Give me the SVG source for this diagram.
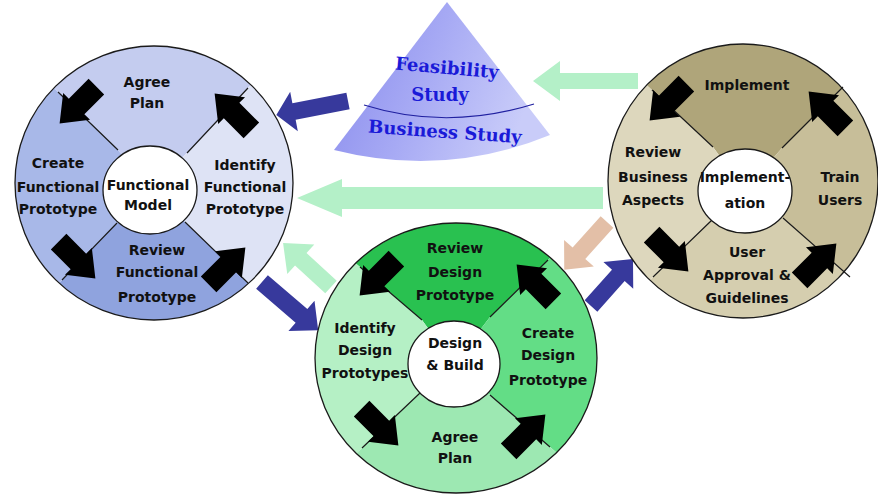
<svg xmlns="http://www.w3.org/2000/svg" xmlns:xlink="http://www.w3.org/1999/xlink" width="878" height="495" viewBox="0 0 878 495">
<defs>
<style>
.t{font-family:"DejaVu Sans","Liberation Sans",sans-serif;font-weight:bold;font-size:14px;fill:#111;text-anchor:middle}
.ct{font-family:"DejaVu Serif","Liberation Serif",serif;font-weight:bold;font-size:18px;fill:#1a1ad8;text-anchor:middle}
.rim{fill:none;stroke:#1a1a1a;stroke-width:1.3}
.div{stroke:#1a1a1a;stroke-width:1.2}
.hub{fill:#fff;stroke:#1a1a1a;stroke-width:1.3}
.blk{fill:#000}
.cb{fill:#37399c}
.cg{fill:#b4f0c8}
.cp{fill:#e3bfa7}
</style>
<path id="ba" d="M-26,-11 H2 V-19 L26,0 L2,19 V11 H-26 Z"/>
<linearGradient id="cone" x1="0" y1="0" x2="1" y2="0.3">
<stop offset="0" stop-color="#8688ec"/>
<stop offset="0.5" stop-color="#a6a9f4"/>
<stop offset="1" stop-color="#c9ccf9"/>
</linearGradient>
<clipPath id="cL"><ellipse cx="154" cy="183" rx="139" ry="137"/></clipPath>
<clipPath id="cM"><ellipse cx="456" cy="358" rx="141" ry="135"/></clipPath>
<clipPath id="cR"><ellipse cx="743" cy="181" rx="135" ry="137"/></clipPath>
</defs>
<rect width="878" height="495" fill="#fff"/>

<g id="connectors">
<path class="cb" d="M0,-8.5 H55 V-20 L73,0 L55,20 V8.5 H0 Z" transform="translate(348,101) rotate(169)"/>
<path class="cg" d="M0,-8 H78 V-20 L105,0 L78,20 V8 H0 Z" transform="translate(638,81) rotate(180)"/>
<path class="cg" d="M0,-11 H261 V-19 L306,0 L261,19 V11 H0 Z" transform="translate(603,198) rotate(180)"/>
<path class="cg" d="M0,-8.5 H41 V-20 L65,0 L41,20 V8.5 H0 Z" transform="translate(331,287) rotate(-137.5)"/>
<path class="cb" d="M0,-9 H52 V-20 L74,0 L52,20 V9 H0 Z" transform="translate(262,282) rotate(40.6)"/>
<path class="cp" d="M0,-8.5 H42 V-20 L64,0 L42,20 V8.5 H0 Z" transform="translate(607,222) rotate(131.9)"/>
<path class="cb" d="M0,-8.5 H41 V-20 L63,0 L41,20 V8.5 H0 Z" transform="translate(591,306) rotate(-48.2)"/>
</g>

<g id="feasibility">
<path d="M447,2 L550,135 Q445,178 334,150 Z" fill="url(#cone)"/>
<path d="M364,105 Q447,131 534,104" fill="none" stroke="#2020a0" stroke-width="1.2"/>
<text class="ct" x="447" y="74" transform="rotate(5 447 68)">Feasibility</text>
<text class="ct" x="440" y="101">Study</text>
<text class="ct" x="445" y="138" transform="rotate(4 445 132)">Business Study</text>
</g>

<g id="functional-model">
<g clip-path="url(#cL)">
<path d="M150,190 L118,150 L-2,34 L309,23 L187,153 Z" fill="#c4ccef"/>
<path d="M150,190 L187,153 L309,23 L320,183 L311,344 L185,222 Z" fill="#dee3f5"/>
<path d="M150,190 L185,222 L311,344 L7,337 L117,223 Z" fill="#8fa3de"/>
<path d="M150,190 L117,223 L7,337 L-10,183 L-2,34 L118,150 Z" fill="#a8b8e8"/>
</g>
<ellipse class="rim" cx="154" cy="183" rx="139" ry="137"/>
<path class="div" d="M118,150 L58,92 M187,153 L248,88 M117,223 L62,280 M185,222 L248,283"/>
<ellipse class="hub" cx="150" cy="190" rx="47" ry="44"/>
<use href="#ba" class="blk" transform="translate(78,105) rotate(135)"/>
<use href="#ba" class="blk" transform="translate(233,112) rotate(-135)"/>
<use href="#ba" class="blk" transform="translate(77,260) rotate(45)"/>
<use href="#ba" class="blk" transform="translate(227,266) rotate(-45)"/>
<text class="t" x="147" y="87">Agree</text>
<text class="t" x="147" y="108">Plan</text>
<text class="t" x="58" y="168">Create</text>
<text class="t" x="58" y="192">Functional</text>
<text class="t" x="58" y="214">Prototype</text>
<text class="t" x="148" y="190">Functional</text>
<text class="t" x="148" y="210">Model</text>
<text class="t" x="245" y="170">Identify</text>
<text class="t" x="245" y="192">Functional</text>
<text class="t" x="245" y="214">Prototype</text>
<text class="t" x="157" y="255">Review</text>
<text class="t" x="157" y="277">Functional</text>
<text class="t" x="157" y="302">Prototype</text>
</g>

<g id="design-build">
<g clip-path="url(#cM)">
<path d="M454,364 L422,320 L298,214 L606,203 L490,317 Z" fill="#29c150"/>
<path d="M454,364 L490,317 L606,203 L615,358 L610,499 L490,395 Z" fill="#63dd86"/>
<path d="M454,364 L490,395 L610,499 L304,503 L420,393 Z" fill="#9de8b2"/>
<path d="M454,364 L420,393 L304,503 L300,358 L298,214 L422,320 Z" fill="#b5f0c5"/>
</g>
<ellipse class="rim" cx="456" cy="358" rx="141" ry="135"/>
<path class="div" d="M422,320 L360,267 M490,317 L548,260 M420,393 L362,448 M490,395 L550,447"/>
<ellipse class="hub" cx="454" cy="364" rx="46" ry="43"/>
<use href="#ba" class="blk" transform="translate(378,277) rotate(135)"/>
<use href="#ba" class="blk" transform="translate(535,283) rotate(-135)"/>
<use href="#ba" class="blk" transform="translate(380,427) rotate(45)"/>
<use href="#ba" class="blk" transform="translate(527,433) rotate(-45)"/>
<text class="t" x="455" y="253">Review</text>
<text class="t" x="455" y="277">Design</text>
<text class="t" x="455" y="300">Prototype</text>
<text class="t" x="365" y="333">Identify</text>
<text class="t" x="365" y="355">Design</text>
<text class="t" x="365" y="378">Prototypes</text>
<text class="t" x="455" y="348">Design</text>
<text class="t" x="455" y="370">&amp; Build</text>
<text class="t" x="548" y="338">Create</text>
<text class="t" x="548" y="360">Design</text>
<text class="t" x="548" y="385">Prototype</text>
<text class="t" x="455" y="442">Agree</text>
<text class="t" x="455" y="463">Plan</text>
</g>

<g id="implementation">
<g clip-path="url(#cR)">
<path d="M745,191 L713,147 L591,33 L904,26 L782,148 Z" fill="#afa57a"/>
<path d="M745,191 L782,148 L904,26 L890,181 L917,336 L783,218 Z" fill="#c7be99"/>
<path d="M745,191 L783,218 L917,336 L594,334 L712,220 Z" fill="#d5ceaf"/>
<path d="M745,191 L712,220 L594,334 L595,181 L591,33 L713,147 Z" fill="#ddd7bd"/>
</g>
<ellipse class="rim" cx="743" cy="181" rx="135" ry="137"/>
<path class="div" d="M713,147 L652,90 M782,148 L843,87 M712,220 L653,277 M783,218 L850,277"/>
<ellipse class="hub" cx="745" cy="191" rx="47" ry="42"/>
<use href="#ba" class="blk" transform="translate(668,102) rotate(135)"/>
<use href="#ba" class="blk" transform="translate(827,110) rotate(-135)"/>
<use href="#ba" class="blk" transform="translate(670,253) rotate(45)"/>
<use href="#ba" class="blk" transform="translate(818,262) rotate(-45)"/>
<text class="t" x="747" y="90">Implement</text>
<text class="t" x="653" y="157">Review</text>
<text class="t" x="653" y="182">Business</text>
<text class="t" x="653" y="205">Aspects</text>
<text class="t" x="745" y="182">Implement-</text>
<text class="t" x="745" y="208">ation</text>
<text class="t" x="840" y="182">Train</text>
<text class="t" x="840" y="205">Users</text>
<text class="t" x="747" y="257">User</text>
<text class="t" x="747" y="280">Approval &amp;</text>
<text class="t" x="747" y="303">Guidelines</text>
</g>
</svg>
